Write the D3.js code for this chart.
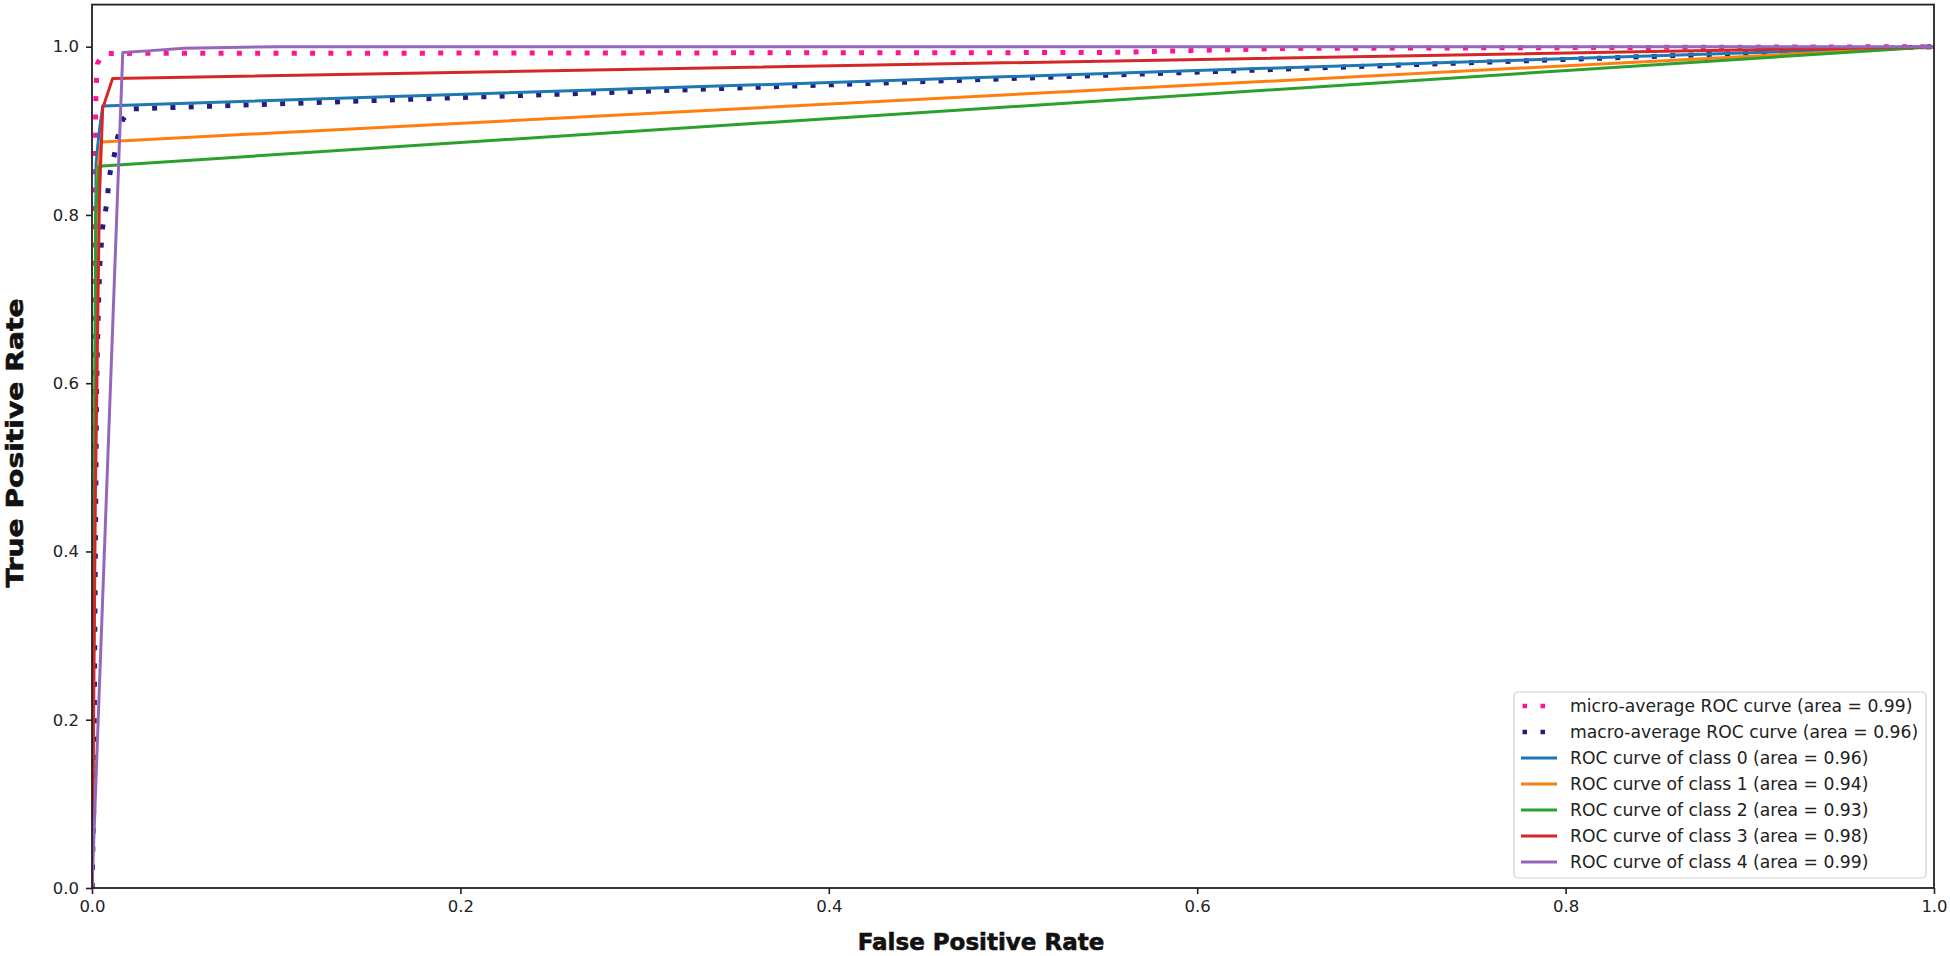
<!DOCTYPE html>
<html>
<head>
<meta charset="utf-8">
<script src="https://cdn.jsdelivr.net/npm/d3@7"></script>
<style>
  html, body { margin: 0; padding: 0; background: #fff; }
  svg { display: block; }
  text { font-family: "DejaVu Sans", sans-serif; }
</style>
</head>
<body>
<svg id="chart" width="1950" height="956"></svg>
<script>
// ---- data ----
const xTicks = [0, 0.2, 0.4, 0.6, 0.8, 1.0];
const yTicks = [0, 0.2, 0.4, 0.6, 0.8, 1.0];

const microFpr = [0, 0.0008, 0.0015, 0.002, 0.0025, 0.003, 0.006, 0.55, 0.65, 1];
const microTpr = [0, 0.3, 0.6, 0.93, 0.965, 0.98, 0.992, 0.993, 0.998, 1];

const macroFpr = [0, 0.001, 0.0015, 0.002, 0.0025, 0.003, 0.0036, 0.0043, 0.0058, 0.0076, 0.0098, 0.0121, 0.014, 0.0167, 0.0212, 1];
const macroTpr = [0, 0.1, 0.3, 0.45, 0.59, 0.65, 0.70, 0.744, 0.786, 0.808, 0.85, 0.871, 0.893, 0.913, 0.926, 1];

const class0Fpr = [0, 0.0015, 0.0022, 0.0036, 0.0058, 1];
const class0Tpr = [0, 0.5, 0.86, 0.893, 0.9295, 1];

const class1Fpr = [0, 0.0015, 0.0022, 0.0031, 0.0049, 1];
const class1Tpr = [0, 0.5, 0.794, 0.853, 0.8868, 1];

const class2Fpr = [0, 0.0012, 0.002, 0.0036, 1];
const class2Tpr = [0, 0.4, 0.8, 0.858, 1];

const class3Fpr = [0, 0.0008, 0.0018, 0.004, 0.0058, 0.0112, 1];
const class3Tpr = [0, 0.18, 0.461, 0.818, 0.9267, 0.9623, 1];

const class4Fpr = [0, 0.0167, 0.03, 0.05, 0.1, 1];
const class4Tpr = [0, 0.993, 0.995, 0.998, 1.0, 1];

const seriesNames = [
  "micro-average ROC curve (area = 0.99)",
  "macro-average ROC curve (area = 0.96)",
  "ROC curve of class 0 (area = 0.96)",
  "ROC curve of class 1 (area = 0.94)",
  "ROC curve of class 2 (area = 0.93)",
  "ROC curve of class 3 (area = 0.98)",
  "ROC curve of class 4 (area = 0.99)"
];
const seriesColors = ["#ff1493", "#1f1f80", "#1f77b4", "#ff7f0e", "#2ca02c", "#d62728", "#9467bd"];
const seriesDotted = [true, true, false, false, false, false, false];
const seriesFpr = [microFpr, macroFpr, class0Fpr, class1Fpr, class2Fpr, class3Fpr, class4Fpr];
const seriesTpr = [microTpr, macroTpr, class0Tpr, class1Tpr, class2Tpr, class3Tpr, class4Tpr];

const xLabel = "False Positive Rate";
const yLabel = "True Positive Rate";

// ---- layout ----
const svg = d3.select("#chart");
const L = 92, R = 1934, T = 4.6, B = 888;
const x = d3.scaleLinear().domain([0, 1]).range([L, R]);
const y = d3.scaleLinear().domain([0, 1.05]).range([B, T]);

const line = d3.line().x(d => x(d[0])).y(d => y(d[1]));

svg.append("clipPath").attr("id", "clip")
  .append("rect").attr("x", L).attr("y", T).attr("width", R - L).attr("height", B - T);

const plot = svg.append("g").attr("clip-path", "url(#clip)");
seriesNames.forEach((name, i) => {
  const pts = seriesFpr[i].map((f, j) => [f, seriesTpr[i][j]]);
  plot.append("path")
    .datum(pts)
    .attr("d", line)
    .attr("fill", "none")
    .attr("stroke", seriesColors[i])
    .attr("stroke-width", seriesDotted[i] ? 5 : 3)
    .attr("stroke-dasharray", seriesDotted[i] ? "5,13.3" : null)
    .attr("stroke-linejoin", "round");
});

// axes
const xAxis = svg.append("g").attr("transform", `translate(0,${B})`)
  .call(d3.axisBottom(x).tickValues(xTicks).tickFormat(d3.format(".1f")).tickSize(6).tickSizeOuter(0).tickPadding(6));
const yAxis = svg.append("g").attr("transform", `translate(${L},0)`)
  .call(d3.axisLeft(y).tickValues(yTicks).tickFormat(d3.format(".1f")).tickSize(6).tickSizeOuter(0).tickPadding(7));
[xAxis, yAxis].forEach(a => {
  a.select(".domain").remove();
  a.selectAll(".tick line").attr("stroke", "#222").attr("stroke-width", 1.6);
  a.selectAll(".tick text").attr("fill", "#222").style("font-size", "16.5px").style("font-family", "DejaVu Sans");
});

// frame
svg.append("rect").attr("x", L).attr("y", T).attr("width", R - L).attr("height", B - T)
  .attr("fill", "none").attr("stroke", "#222").attr("stroke-width", 1.8);

// axis labels
svg.append("text").attr("x", 981).attr("y", 950).attr("text-anchor", "middle")
  .style("font-size", "23px").style("font-weight", "bold").attr("fill", "#111")
  .attr("stroke", "#111").attr("stroke-width", 0.6).text(xLabel);
svg.append("text").attr("transform", "translate(23,443) rotate(-90)").attr("text-anchor", "middle")
  .attr("textLength", 289).attr("lengthAdjust", "spacingAndGlyphs")
  .style("font-size", "23px").style("font-weight", "bold").attr("fill", "#111")
  .attr("stroke", "#111").attr("stroke-width", 0.6).text(yLabel);

// legend
const lg = svg.append("g");
lg.append("rect").attr("x", 1514).attr("y", 692).attr("width", 412).attr("height", 186)
  .attr("rx", 4).attr("fill", "#fff").attr("fill-opacity", 0.8).attr("stroke", "#d0d0d0").attr("stroke-width", 1.2);
seriesNames.forEach((name, i) => {
  const cy = 706 + i * 26;
  lg.append("line").attr("x1", 1521).attr("x2", 1557).attr("y1", cy).attr("y2", cy)
    .attr("stroke", seriesColors[i])
    .attr("stroke-width", seriesDotted[i] ? 4.5 : 3)
    .attr("stroke-dasharray", seriesDotted[i] ? "4.5,13.5" : null)
    .attr("stroke-dashoffset", seriesDotted[i] ? -1.5 : null);
  lg.append("text").attr("x", 1570).attr("y", cy).attr("dy", "0.35em")
    .style("font-size", "17.2px").attr("fill", "#222").text(name);
});
</script>
</body>
</html>
